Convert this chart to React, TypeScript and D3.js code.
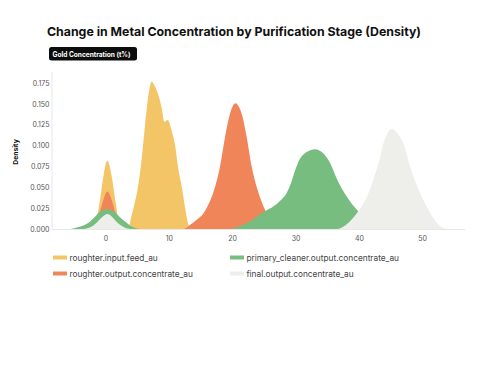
import React from "react";
import * as d3 from "d3";

const title = "Change in Metal Concentration by Purification Stage (Density)";
const badge = "Gold Concentration (t%)";
const yLabel = "Density";

const xTicks = [0, 10, 20, 30, 40, 50];
const yTicks = [0, 0.025, 0.05, 0.075, 0.1, 0.125, 0.15, 0.175];

const seriesNames = [
  "roughter.input.feed_au",
  "roughter.output.concentrate_au",
  "primary_cleaner.output.concentrate_au",
  "final.output.concentrate_au",
];
const seriesColors = ["#F4C566", "#F1855A", "#76BD7F", "#EEEEEA"];

const feedX = [-2.6, -2, -1.47, -1.2, -0.79, -0.42, 0.2, 0.9, 1.3, 1.69, 1.95, 2.5, 3.0, 3.5, 4.06, 4.58, 5.1, 5.64, 6.16, 6.7, 7.2, 7.7, 8.27, 8.8, 9.2, 9.74, 10.4, 10.9, 11.4, 12.0, 12.5, 13.1, 13.5];
const feedY = [0, 0.003, 0.011, 0.023, 0.043, 0.063, 0.082, 0.063, 0.043, 0.023, 0.011, 0.002, 0, 0.001, 0.017, 0.033, 0.053, 0.085, 0.125, 0.161, 0.177, 0.172, 0.161, 0.145, 0.129, 0.131, 0.117, 0.101, 0.073, 0.049, 0.025, 0.003, 0];

const roughX = [-2.5, -1.8, -1.05, -0.58, 0.2, 1.05, 1.42, 2.0, 2.8, 12.2, 13.3, 14.3, 15.4, 16.2, 16.9, 18.0, 18.8, 19.6, 20.4, 21.4, 22.2, 23.0, 24.1, 25.1, 26.0, 27.0];
const roughY = [0, 0.006, 0.019, 0.031, 0.045, 0.031, 0.021, 0.008, 0, 0, 0.005, 0.011, 0.019, 0.03, 0.043, 0.075, 0.111, 0.139, 0.151, 0.139, 0.111, 0.075, 0.043, 0.023, 0.01, 0];

const primaryX = [-5.6, -4.5, -3.3, -2.5, -1.7, -0.95, 0.2, 1.42, 2.2, 3.0, 4.06, 5.4, 19.5, 21, 22.5, 23.8, 25, 26.4, 27.5, 28.5, 29.2, 29.8, 30.6, 31.7, 32.4, 33.0, 33.6, 34.3, 35.4, 36.4, 38.0, 39.6, 41, 42.5, 44];
const primaryY = [0, 0.002, 0.005, 0.009, 0.015, 0.021, 0.0237, 0.02, 0.014, 0.009, 0.003, 0, 0, 0.003, 0.008, 0.015, 0.021, 0.027, 0.034, 0.043, 0.055, 0.069, 0.084, 0.0925, 0.095, 0.0958, 0.0948, 0.091, 0.079, 0.061, 0.039, 0.023, 0.012, 0.005, 0];

const finalX = [-3.5, -2.5, -1.7, -1.2, -0.5, 0.2, 0.9, 1.5, 2.2, 3.2, 4, 36.5, 37.5, 38.6, 39.6, 41.2, 42.2, 43.3, 43.8, 44.4, 45.1, 45.8, 46.4, 47.0, 48.0, 49.6, 51.2, 52.3, 53.3, 54];
const finalY = [0, 0.002, 0.006, 0.01, 0.015, 0.018, 0.015, 0.01, 0.005, 0.001, 0, 0, 0.003, 0.01, 0.019, 0.039, 0.059, 0.087, 0.103, 0.1145, 0.1205, 0.117, 0.111, 0.102, 0.075, 0.043, 0.019, 0.007, 0.001, 0];

const seriesX = [feedX, roughX, primaryX, finalX];
const seriesY = [feedY, roughY, primaryY, finalY];

const FONT = "Inter, 'Noto Sans', sans-serif";

export default function App() {
  const W = 479;
  const H = 372;
  const x = d3.scaleLinear().domain([-8.53, 56.68]).range([52, 465]);
  const y = d3.scaleLinear().domain([0, 0.1887]).range([229, 72]);

  const area = d3
    .area<[number, number]>()
    .x((d) => x(d[0]))
    .y0(y(0))
    .y1((d) => y(d[1]))
    .curve(d3.curveMonotoneX);

  const legendPos = [
    [53, 257.5],
    [53, 273.5],
    [230, 257.5],
    [230, 273.5],
  ];

  return (
    <svg
      width={W}
      height={H}
      style={{ position: "absolute", left: 0, top: 0, background: "#fff" }}
      fontFamily={FONT}
    >
      <text x={47} y={36} fontSize={12.4} fontWeight={700} fill="#111" textLength={374} lengthAdjust="spacingAndGlyphs">
        {title}
      </text>
      <rect x={49} y={47} width={88} height={13.5} rx={2.5} fill="#0d0d0d" />
      <text x={52.5} y={56.5} fontSize={6.9} fontWeight={700} fill="#fff" textLength={78} lengthAdjust="spacingAndGlyphs">
        {badge}
      </text>

      {seriesX.map((xs, i) => {
        const pts = xs.map((v, j) => [v, seriesY[i][j]] as [number, number]);
        return <path key={i} d={area(pts) || ""} fill={seriesColors[i]} />;
      })}

      <line x1={52} x2={52} y1={72} y2={229} stroke="#e8e8e8" strokeWidth={1} />
      <line x1={52} x2={465} y1={229.5} y2={229.5} stroke="#e8e8e8" strokeWidth={1} />

      {yTicks.map((t) => (
        <text key={t} x={49.5} y={y(t) + 2.5} fontSize={7} fill="#555" textAnchor="end">
          {d3.format(".3f")(t)}
        </text>
      ))}
      {xTicks.map((t) => (
        <text key={t} x={x(t)} y={241} fontSize={7} fill="#555" textAnchor="middle">
          {t}
        </text>
      ))}
      <text
        transform={`translate(17.5,152) rotate(-90)`}
        fontSize={6.8}
        fontWeight={700}
        fill="#111"
        textAnchor="middle"
      >
        {yLabel}
      </text>

      {seriesNames.map((n, i) => (
        <g key={n} transform={`translate(${legendPos[i][0]},${legendPos[i][1]})`}>
          <rect x={0} y={-2} width={14} height={4} fill={seriesColors[i]} />
          <text x={16.5} y={3} fontSize={8.3} fill="#444">
            {n}
          </text>
        </g>
      ))}
    </svg>
  );
}
